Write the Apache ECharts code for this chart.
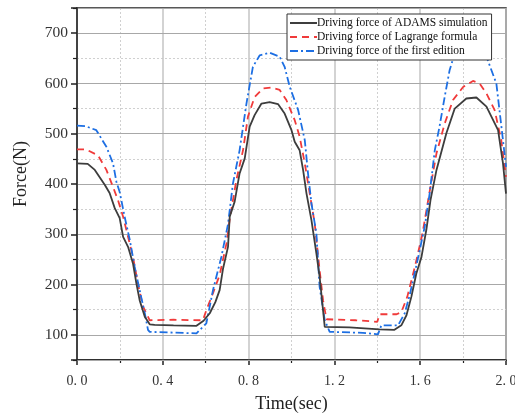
<!DOCTYPE html>
<html>
<head>
<meta charset="utf-8">
<script src="https://cdn.jsdelivr.net/npm/echarts@6/dist/echarts.min.js"></script>
<style>html,body{margin:0;padding:0;background:#fff}#c{width:515px;height:413px}</style>
</head>
<body>
<div id="c"></div>
<script>
const seriesNames = ['Driving force of ADAMS simulation', 'Driving force of Lagrange formula', 'Driving force of the first edition'];
const xTicks = [0.0, 0.4, 0.8, 1.2, 1.6, 2.0];
const yTicks = [100, 200, 300, 400, 500, 600, 700];

const adamsT = [0, 0.05, 0.083, 0.13, 0.152, 0.176, 0.199, 0.215, 0.238, 0.261, 0.277, 0.292, 0.316, 0.339, 0.362, 0.45, 0.557, 0.59, 0.619, 0.645, 0.665, 0.681, 0.704, 0.712, 0.735, 0.758, 0.782, 0.805, 0.828, 0.86, 0.898, 0.937, 0.968, 1.0, 1.015, 1.038, 1.054, 1.07, 1.093, 1.116, 1.131, 1.155, 1.27, 1.41, 1.48, 1.512, 1.536, 1.559, 1.582, 1.606, 1.629, 1.648, 1.676, 1.722, 1.761, 1.815, 1.862, 1.909, 1.963, 1.986, 2.0];
const adamsV = [441, 440, 428, 398, 382, 352, 332, 295, 275, 242, 202, 169, 136, 121, 120, 119, 118, 128, 143, 165, 189, 232, 275, 335, 365, 421, 451, 514, 537, 560, 563, 559, 540, 507, 484, 467, 428, 381, 328, 262, 216, 116, 115, 111, 110, 119, 139, 176, 222, 255, 310, 368, 428, 501, 550, 570, 572, 554, 507, 441, 381];

const lagrangeT = [0, 0.04, 0.098, 0.137, 0.168, 0.191, 0.215, 0.238, 0.261, 0.284, 0.308, 0.339, 0.45, 0.587, 0.603, 0.634, 0.665, 0.697, 0.712, 0.743, 0.774, 0.797, 0.828, 0.867, 0.906, 0.945, 0.976, 1.015, 1.038, 1.062, 1.085, 1.108, 1.131, 1.147, 1.163, 1.30, 1.40, 1.41, 1.49, 1.512, 1.54, 1.575, 1.61, 1.644, 1.676, 1.714, 1.753, 1.8, 1.846, 1.877, 1.909, 1.947, 1.978, 2.0];
const lagrangeV = [469, 469, 457, 428, 394, 368, 335, 295, 255, 202, 156, 129, 130, 129, 149, 183, 219, 282, 330, 408, 467, 534, 573, 590, 592, 587, 567, 527, 494, 441, 381, 322, 229, 169, 131, 129, 126, 141, 141, 145, 176, 235, 300, 385, 461, 520, 567, 593, 605, 600, 580, 547, 487, 414];

const firstT = [0, 0.04, 0.09, 0.137, 0.168, 0.184, 0.199, 0.222, 0.246, 0.269, 0.292, 0.316, 0.331, 0.339, 0.557, 0.603, 0.634, 0.673, 0.704, 0.727, 0.758, 0.79, 0.82, 0.852, 0.898, 0.945, 0.968, 0.992, 1.031, 1.062, 1.077, 1.093, 1.116, 1.131, 1.155, 1.178, 1.333, 1.403, 1.419, 1.497, 1.528, 1.551, 1.574, 1.598, 1.621, 1.644, 1.668, 1.69, 1.714, 1.737, 1.761, 1.83, 1.909, 1.955, 1.986, 2.0];
const firstV = [516, 515, 507, 474, 441, 404, 384, 335, 289, 235, 189, 143, 110, 106, 103, 123, 189, 255, 320, 401, 467, 560, 633, 656, 661, 653, 633, 593, 547, 487, 421, 361, 302, 196, 129, 106, 104, 101, 119, 119, 143, 179, 222, 269, 315, 381, 467, 514, 573, 626, 660, 690, 653, 600, 487, 434];

const pairs = (t, v) => t.map((x, i) => [x, v[i]]);
const serif = 'Liberation Serif';
const chart = echarts.init(document.getElementById('c'));
chart.setOption({
  animation: false,
  backgroundColor: '#fff',
  grid: { left: 77, right: 9, top: 8, bottom: 53, containLabel: false, outerBoundsMode: 'none', show: true, borderColor: '#222', borderWidth: 1.5, backgroundColor: 'transparent' },
  legend: {
    show: true,
    data: seriesNames,
    orient: 'vertical',
    left: 287, top: 14,
    padding: [3, 4, 3, 2],
    itemGap: 2,
    itemWidth: 27, itemHeight: 12,
    backgroundColor: '#fff',
    borderColor: '#333', borderWidth: 1,
    itemStyle: { opacity: 0 },
    textStyle: { fontFamily: serif, fontSize: 11.5, color: '#111', padding: [0, 0, 0, -5] }
  },
  xAxis: {
    type: 'value', min: 0, max: 2.0, interval: 0.4,
    name: 'Time(sec)', nameLocation: 'middle', nameGap: 35,
    nameTextStyle: { fontFamily: serif, fontSize: 18, color: '#222' },
    axisLine: { show: true, lineStyle: { color: '#222', width: 1.5 } },
    axisTick: { show: true, inside: false, length: 5, lineStyle: { color: '#222', width: 1.5 } },
    minorTick: { show: true, splitNumber: 2, length: 3, lineStyle: { color: '#222', width: 1.2 } },
    axisLabel: { fontFamily: serif, fontSize: 14, color: '#333', margin: 14,
      formatter: v => xTicks.some(x => Math.abs(x - v) < 1e-6) ? v.toFixed(1).replace('.', '. ') : '' },
    splitLine: { show: true, lineStyle: { color: '#c4c4c4', width: 1.5 } },
    minorSplitLine: { show: true, lineStyle: { color: '#d0d0d0', width: 1, type: [2, 2] } }
  },
  yAxis: [
    {
      type: 'value', min: 50, max: 750, splitNumber: 7, minInterval: 100, maxInterval: 100,
      name: 'Force(N)', nameLocation: 'middle', nameGap: 47, nameRotate: 90,
      nameTextStyle: { fontFamily: serif, fontSize: 18, color: '#222', padding: [0, 0, 0, 20] },
      axisLine: { show: true, lineStyle: { color: '#222', width: 1.5 } },
      axisTick: { show: true, inside: false, length: 6, lineStyle: { color: '#222', width: 1.5 } },
      axisLabel: { fontFamily: serif, fontSize: 15.5, color: '#333', margin: 9,
        formatter: v => yTicks.includes(v) ? String(v) : '' },
      splitLine: { show: true, lineStyle: { color: '#a8a8a8', width: 1 } },
      z: 1
    },
    {
      type: 'value', min: 50, max: 750, interval: 100, position: 'left', offset: 0,
      axisLine: { show: false },
      axisTick: { show: true, inside: false, length: 4, lineStyle: { color: '#222', width: 1.2 } },
      axisLabel: { show: false },
      splitLine: { show: true, lineStyle: { color: '#d0d0d0', width: 1, type: [2, 2] } },
      z: 0
    }
  ],
  series: [
    { name: seriesNames[0], type: 'line', symbol: 'none', smooth: false, z: 3,
      data: pairs(adamsT, adamsV), lineStyle: { color: '#3d3d3d', width: 1.8, type: 'solid' }, itemStyle: { color: '#3d3d3d' } },
    { name: seriesNames[1], type: 'line', symbol: 'none', smooth: false, z: 2,
      data: pairs(lagrangeT, lagrangeV), lineStyle: { color: '#f03a3a', width: 1.8, type: [7, 5] }, itemStyle: { color: '#f03a3a' } },
    { name: seriesNames[2], type: 'line', symbol: 'none', smooth: false, z: 2,
      data: pairs(firstT, firstV), lineStyle: { color: '#1d6fe3', width: 1.8, type: [8, 3, 2, 3] }, itemStyle: { color: '#1d6fe3' } }
  ]
});
</script>
</body>
</html>
